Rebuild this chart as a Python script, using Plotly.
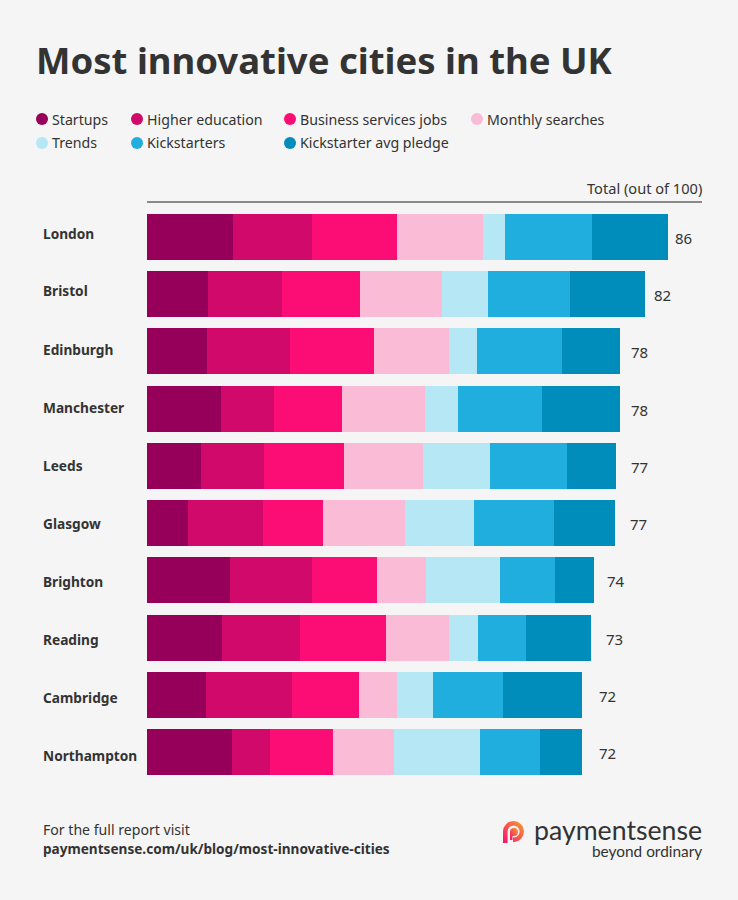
import base64
import plotly.graph_objects as go

W, H = 738, 900
FONT = "Noto Sans"
INK = "#333333"

cities = ["London", "Bristol", "Edinburgh", "Manchester", "Leeds", "Glasgow",
          "Brighton", "Reading", "Cambridge", "Northampton"]
totals = [86, 82, 78, 78, 77, 77, 74, 73, 72, 72]
startups = [14.2, 10.1, 9.9, 12.2, 8.9, 6.8, 13.7, 12.4, 9.7, 14.0]
higher_education = [13.0, 12.2, 13.7, 8.7, 10.4, 12.4, 13.5, 12.9, 14.2, 6.3]
business_jobs = [14.0, 12.9, 13.9, 11.2, 13.2, 9.9, 10.7, 14.2, 11.1, 10.4]
monthly_searches = [14.2, 13.5, 12.4, 13.7, 13.0, 13.4, 8.1, 10.4, 6.3, 10.1]
trends = [3.6, 7.6, 4.6, 5.6, 11.1, 11.4, 12.2, 4.8, 5.9, 14.2]
kickstarters = [14.4, 13.5, 14.0, 13.7, 12.7, 13.2, 9.2, 7.9, 11.6, 9.9]
avg_pledge = [12.5, 12.4, 9.6, 12.9, 8.1, 10.2, 6.3, 10.6, 13.0, 6.9]

series = [
    ("Startups", startups, "#97005A"),
    ("Higher education", higher_education, "#D0096A"),
    ("Business services jobs", business_jobs, "#FC0C75"),
    ("Monthly searches", monthly_searches, "#F9BBD6"),
    ("Trends", trends, "#B6E7F4"),
    ("Kickstarters", kickstarters, "#20AEDE"),
    ("Kickstarter avg pledge", avg_pledge, "#008DBB"),
]
legend_slots = [(42, 119), (137, 119), (290, 119), (477, 119),
                (42, 143), (137, 143), (290, 143)]
legend_text_dy = [1, 1, 1, 1, 0, 0, 0]
label_nudge = [7, 10, 11, 11, 17, 16, 12, 17, 16, 16]
city_label_y = [233, 291, 349.5, 407, 465, 523, 581, 639, 697, 755.5]


def px(x):
    return x / W


def py(y):
    return 1 - y / H


fig = go.Figure()
for name, vals, col in series:
    fig.add_trace(go.Bar(y=cities, x=vals, name=name, orientation="h",
                         marker=dict(color=col, line=dict(width=0)),
                         showlegend=False, hoverinfo="x+y+name"))

ann = []
shapes = []


def text(x, y, s, size=14.5, color=INK, anchor="left", bold=False, family=FONT, weight=None):
    f = dict(family=family, size=size, color=color)
    if weight:
        f["weight"] = weight
    ann.append(dict(xref="paper", yref="paper", x=px(x), y=py(y), text=f"<b>{s}</b>" if bold else s,
                    showarrow=False, xanchor=anchor, yanchor="middle", align=anchor, font=f))


text(34, 60.5, "Most innovative cities in the UK", size=36.5, bold=True)

for (name, _, col), (x, y), dy in zip(series, legend_slots, legend_text_dy):
    shapes.append(dict(type="circle", xref="paper", yref="paper", x0=px(x - 6), x1=px(x + 6),
                       y0=py(y + 6), y1=py(y - 6), fillcolor=col, line=dict(width=0)))
    text(x + 8, y + dy, name, size=14.2)

text(704, 188, "Total (out of 100)", size=14.6, anchor="right")
shapes.append(dict(type="line", xref="paper", yref="paper", x0=px(147), x1=px(702), y0=py(202), y1=py(202),
                   line=dict(color="#666666", width=1.3)))

for c, t, n, ly in zip(cities, totals, label_nudge, city_label_y):
    text(41, ly, c, size=13.7, bold=True)
    ann.append(dict(xref="x", yref="y", x=t, y=c, text=str(t), showarrow=False, xanchor="left", yanchor="middle",
                    xshift=n - 2, yshift=-1, font=dict(family=FONT, size=15, color=INK)))

text(41, 829.5, "For the full report visit", size=14.1)
text(41, 848, "paymentsense.com/uk/blog/most-innovative-cities", size=13.6, bold=True)

text(532, 829.5, "paymentsense", size=26.7, family="Lato")
text(704, 850.5, "beyond ordinary", size=15.4, anchor="right", family="Lato")

svg = ('<svg xmlns="http://www.w3.org/2000/svg" width="44" height="44" viewBox="0 0 22 22">'
       '<defs><linearGradient id="g" x1="0" y1="1" x2="1" y2="0"><stop offset="0" stop-color="#F80F70"/>'
       '<stop offset="1" stop-color="#F9A02B"/></linearGradient></defs>'
       '<path fill="url(#g)" d="M0 22V10.5A10.5 10.5 0 1 1 11 21H10V16.5H11A6 6 0 1 0 4.6 10.5V22Z"/>'
       '<path fill="url(#g)" d="M7 11a4 4 0 1 1 4 4H9.5V19H7Z"/></svg>')
logo = "data:image/svg+xml;base64," + base64.b64encode(svg.encode()).decode()

fig.update_layout(
    width=W, height=H, margin=dict(l=0, r=0, t=0, b=0), barmode="stack", bargap=0.196,
    paper_bgcolor="#F5F5F5", plot_bgcolor="#F5F5F5", showlegend=False,
    xaxis=dict(domain=[px(147), px(702)], range=[0, 555 / 6.06], visible=False, fixedrange=True),
    yaxis=dict(domain=[py(780.6), py(208.4)], autorange="reversed", visible=False, fixedrange=True,
               type="category", categoryorder="array", categoryarray=cities),
    annotations=ann, shapes=shapes,
    images=[dict(source=logo, xref="paper", yref="paper", x=px(503), y=py(821), sizex=22 / W, sizey=22 / H,
                 xanchor="left", yanchor="top", sizing="stretch", layer="above")],
)
fig.write_html("out.html", config={"displayModeBar": False},
               post_script="document.body.style.margin='0';")
